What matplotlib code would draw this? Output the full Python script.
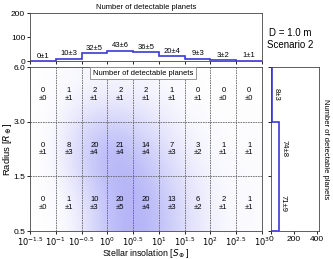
import numpy as np
import matplotlib
matplotlib.use('Agg')
import matplotlib.pyplot as plt
from matplotlib.colors import LinearSegmentedColormap

plt.rcParams['font.family'] = ['Liberation Sans', 'DejaVu Sans']
plt.rcParams['mathtext.fontset'] = 'dejavusans'

# insolation bins (log10 S), radius bins
x_edges = [-1.5, -1.0, -0.5, 0.0, 0.5, 1.0, 1.5, 2.0, 2.5, 3.0]
x_ticklabels = ['$10^{-1.5}$', '$10^{-1}$', '$10^{-0.5}$', '$10^{0}$', '$10^{0.5}$',
                '$10^{1}$', '$10^{1.5}$', '$10^{2}$', '$10^{2.5}$', '$10^{3}$']
r_ticklabels = ['0.5', '1.5', '3.0', '6.0']

# detectable planets per cell, rows from bottom (0.5-1.5) to top (3-6)
counts = np.array([
    [0, 1, 10, 20, 20, 13, 6, 2, 1],
    [0, 8, 20, 21, 14, 7, 3, 1, 1],
    [0, 1, 2, 2, 2, 1, 0, 0, 0],
])
errors = np.array([
    [0, 1, 3, 5, 4, 3, 2, 1, 1],
    [1, 3, 4, 4, 4, 3, 2, 1, 1],
    [0, 1, 1, 1, 1, 1, 1, 0, 0],
])

# marginal histograms
s_counts = [0, 10, 32, 43, 36, 20, 9, 3, 1]
s_errors = [1, 3, 5, 6, 5, 4, 3, 2, 1]
r_counts = [71, 74, 8]
r_errors = [9, 8, 3]

blue = '#3a3ad6'
W, H = 333, 259
fig = plt.figure(figsize=(W / 100, H / 100), dpi=100)

def box(l, t, r, b):
    return [l / W, 1 - b / H, (r - l) / W, (b - t) / H]

ax = fig.add_axes(box(30, 67, 262, 231))
ax_top = fig.add_axes(box(30, 13, 262, 61))
ax_r = fig.add_axes(box(271, 67, 319, 231))

# main density map
cmap = LinearSegmentedColormap.from_list('wb', ['#ffffff', '#a8a8f6'])
ax.imshow(counts, origin='lower', extent=[-1.5, 3.0, 0, 3], aspect='auto',
          cmap=cmap, interpolation='bicubic', vmin=0, vmax=23)
for xe in x_edges[1:-1]:
    ax.axvline(xe, color='#666666', lw=0.6, ls=(0, (2, 1)))
for ye in [1, 2]:
    ax.axhline(ye, color='#666666', lw=0.6, ls=(0, (2, 1)))
for j in range(3):
    for i in range(9):
        ax.text(x_edges[i] + 0.25, j + 0.5, f'{counts[j, i]}\n±{errors[j, i]}',
                ha='center', va='center', fontsize=5.5, linespacing=1.15)
ax.text(0.69, 2.89, 'Number of detectable planets', fontsize=5.5, ha='center', va='center',
        bbox=dict(boxstyle='square,pad=0.35', fc='white', ec='#888888', lw=0.6))
ax.set_xlim(-1.5, 3.0)
ax.set_ylim(0, 3)
ax.set_xticks(x_edges)
ax.set_xticklabels(x_ticklabels)
ax.set_yticks([0, 1, 2, 3])
ax.set_yticklabels(r_ticklabels)
ax.tick_params(labelsize=6, length=2.5, width=0.6, pad=1)
ax.tick_params(axis='x', pad=0.5)
ax.set_xlabel(r'Stellar insolation [$S_\oplus$]', fontsize=6.4)
ax.set_ylabel(r'Radius [$R_\oplus$]', fontsize=6.8)
ax.xaxis.set_label_coords(0.5, -0.097)
ax.yaxis.set_label_coords(-0.068, 0.5)

# top histogram
ax_top.stairs(s_counts, x_edges, color=blue, lw=1.2)
for i, (v, e) in enumerate(zip(s_counts, s_errors)):
    ax_top.text(x_edges[i] + 0.25, v + 6, f'{v}±{e}', ha='center', va='bottom', fontsize=5.5)
ax_top.set_xlim(-1.5, 3.0)
ax_top.set_ylim(0, 200)
ax_top.set_xticks(x_edges)
ax_top.set_xticklabels([])
ax_top.set_yticks([0, 100, 200])
ax_top.tick_params(labelsize=6, length=2.5, width=0.6, pad=1)
ax_top.set_title('Number of detectable planets', fontsize=5.5, pad=3)

# right histogram
ax_r.stairs(r_counts, [0, 1, 2, 3], orientation='horizontal', color=blue, lw=1.2)
for j, (v, e) in enumerate(zip(r_counts, r_errors)):
    ax_r.text(v + 6, j + 0.5, f'{v}±{e}', rotation=270, ha='left', va='center', fontsize=5.5)
ax_r.set_ylim(0, 3)
ax_r.set_xlim(0, 420)
ax_r.set_xticks([0, 200, 400])
ax_r.set_yticks([0, 1, 2, 3])
ax_r.set_yticklabels([])
ax_r.tick_params(labelsize=6, length=2.5, width=0.6, pad=1)
ax_r.yaxis.set_label_position('right')
ax_r.set_ylabel('Number of detectable planets', fontsize=5.5, rotation=270, labelpad=7)

for a in (ax, ax_top, ax_r):
    for s in a.spines.values():
        s.set_linewidth(0.6)
        s.set_color('#444444')

fig.text(290 / W, 1 - 39 / H, 'D = 1.0 m\nScenario 2', ha='center', va='center',
         fontsize=7, linespacing=1.2)

fig.savefig('out.png', dpi=100)
